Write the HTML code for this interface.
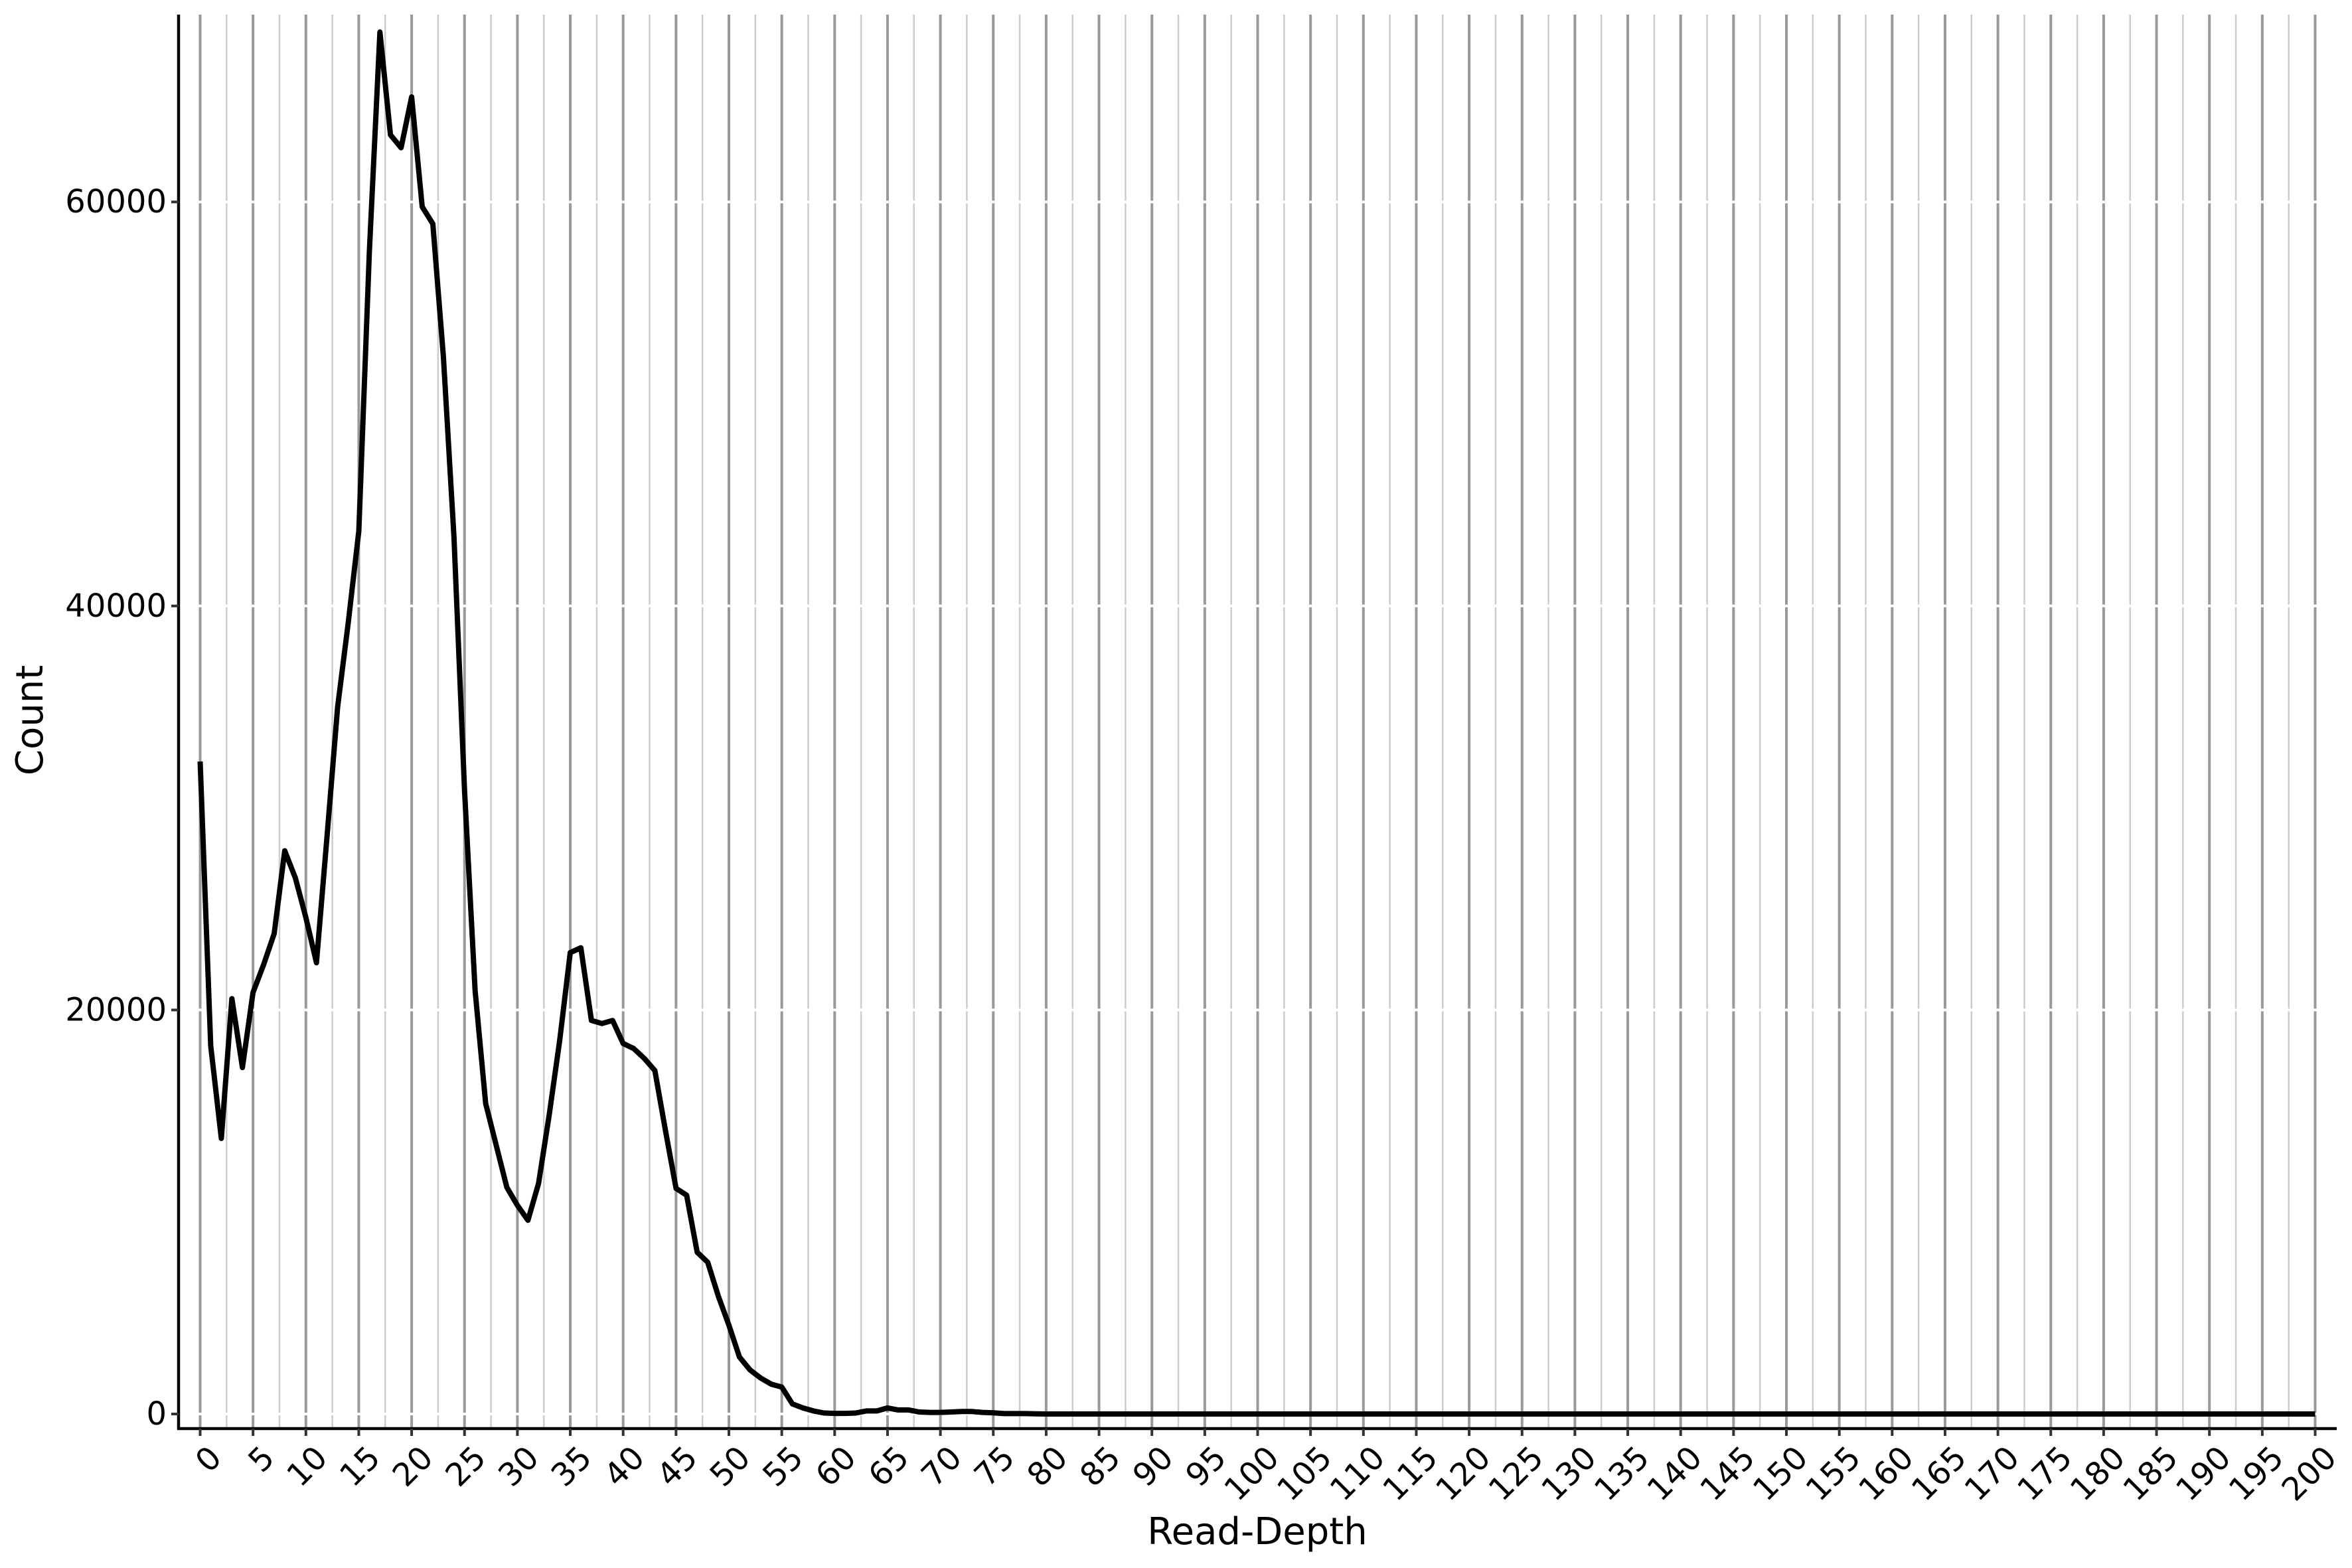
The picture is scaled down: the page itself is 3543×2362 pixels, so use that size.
<!DOCTYPE html>
<html><head><meta charset="utf-8"><style>
html,body{margin:0;padding:0;background:#fff;}
svg{display:block;font-family:"DejaVu Sans","Liberation Sans",sans-serif;}
</style></head><body>
<svg id="chart" width="3543" height="2362" viewBox="0 0 3543 2362" xmlns="http://www.w3.org/2000/svg">
<rect width="3543" height="2362" fill="#fff"/>
<g id="grid"></g>
<g id="line"></g>
<g id="axes"></g>
<text x="1894" y="2326" font-size="56" text-anchor="middle">Read-Depth</text>
<text transform="translate(64,1085) rotate(-90)" font-size="56" text-anchor="middle">Count</text>
</svg>
<script>
const depthValues = [32300,18240,13640,20560,17150,20860,22240,23780,27880,26540,24570,22340,28620,35000,39150,43700,57540,68410,63320,62680,65200,59760,58920,52350,43450,30850,20960,15370,13300,11220,10330,9590,11420,14780,18490,22840,23080,19480,19330,19480,18340,18090,17600,17000,14040,11170,10830,8010,7510,5830,4400,2820,2180,1780,1480,1330,500,300,150,50,30,30,50,150,150,300,200,200,100,80,80,100,120,120,80,60,20,20,20,10];
const yTicks = [0,20000,40000,60000];
const xTicks = [];
for (let t = 0; t <= 200; t += 5) xTicks.push(t);

const NS = "http://www.w3.org/2000/svg";
const L = 269, R = 3520, T = 22, B = 2152;
const X0 = 301.5, XPU = 15.93;
const Y0 = 2130, YPU = 608.6 / 20000;
const xs = v => X0 + v * XPU;
const ys = v => Y0 - v * YPU;
function mk(tag, attrs, parent) {
  const e = document.createElementNS(NS, tag);
  for (const k in attrs) e.setAttribute(k, attrs[k]);
  parent.appendChild(e);
  return e;
}
const grid = document.getElementById('grid');
const axes = document.getElementById('axes');
const lineG = document.getElementById('line');

for (let t = 2.5; t < 200; t += 5) {
  const e = mk('line', {x1: xs(t), x2: xs(t), y1: T, y2: B, stroke: '#cccccc', 'stroke-width': 2.5}, grid);
  
  
}
xTicks.forEach(t => {
  const e = mk('line', {x1: xs(t), x2: xs(t), y1: T, y2: B, stroke: '#999999', 'stroke-width': 4}, grid);
  
  
});
yTicks.forEach(t => {
  const e = mk('line', {x1: L, x2: R, y1: ys(t), y2: ys(t), stroke: '#ffffff', 'stroke-width': 4}, grid);
  
  
});

const pts = [];
for (let i = 0; i <= 200; i++) {
  const v = i < depthValues.length ? depthValues[i] : 0;
  pts.push(xs(i).toFixed(1) + ',' + ys(v).toFixed(1));
}
const pl = mk('polyline', {points: pts.join(' '), fill: 'none', stroke: '#000', 'stroke-width': 8, 'stroke-linejoin': 'round'}, lineG);



const ya = mk('line', {x1: L, x2: L, y1: T, y2: B + 2, stroke: '#000', 'stroke-width': 4.5}, axes);


const xa = mk('line', {x1: L - 2, x2: R, y1: B, y2: B, stroke: '#000', 'stroke-width': 4.5}, axes);



yTicks.forEach(t => {
  const tk = mk('line', {x1: L - 11, x2: L, y1: ys(t), y2: ys(t), stroke: '#333', 'stroke-width': 4}, axes);
  
  
  const lb = mk('text', {x: L - 18, y: ys(t), 'font-size': 48, 'text-anchor': 'end', 'dominant-baseline': 'central', fill: '#000'}, axes);
  lb.textContent = t;
  
  
});
xTicks.forEach(t => {
  const x = xs(t);
  const tk = mk('line', {x1: x, x2: x, y1: B, y2: B + 11, stroke: '#333', 'stroke-width': 4}, axes);
  
  
  const ax = x + 10, ay = 2174;
  const lb = mk('text', {x: ax, y: ay, 'font-size': 48, 'text-anchor': 'end', 'dominant-baseline': 'hanging', fill: '#000', transform: 'rotate(-45 ' + ax + ' ' + ay + ')'}, axes);
  lb.textContent = t;
  
  
});
</script>
</body></html>
